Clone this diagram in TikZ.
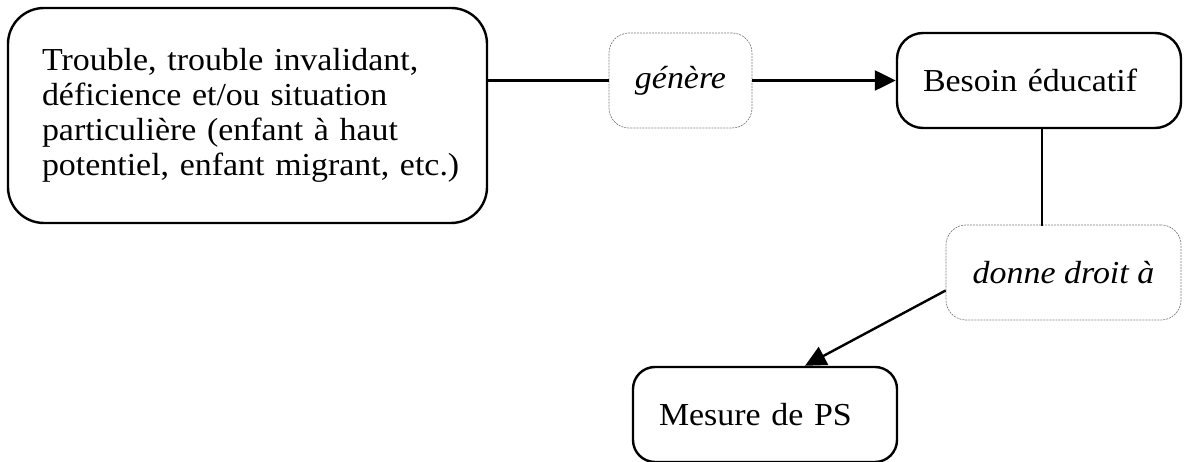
\documentclass[tikz,border=0pt]{standalone}
\usepackage{fontspec}
\setmainfont[FakeStretch=1.06]{Liberation Serif}
\usetikzlibrary{arrows.meta}

\begin{document}
\begin{tikzpicture}[x=1pt,y=-1pt,font=\fontsize{32}{35}\selectfont]

\tikzset{
    box/.style={draw,line width=2.4pt,rounded corners=#1,align=left,inner sep=0pt,minimum height=95pt},
    verb/.style={draw=gray,dash pattern=on 2pt off 1pt,line width=0.7pt,rounded corners=20pt,
        inner sep=0pt,minimum height=95pt,font=\fontsize{32}{35}\selectfont\itshape},
    link/.style={line width=2.4pt},
    tip/.style={-{Triangle[length=21pt,width=20pt]}}}

\useasboundingbox (0,0) rectangle (1184,462);

\node[box=36pt, minimum width=479pt, minimum height=215pt, text width=411pt] (cause) at (247.5,115.5)
    {Trouble, trouble invalidant,\\ déficience et/ou situation\\ particulière (enfant à haut\\
     \makebox[411pt][l]{potentiel, enfant migrant, etc.)}};

\node[verb, minimum width=143pt] (genere) at (680.5,80.5) {génère};

\node[box=26pt, minimum width=284pt, text width=232pt] (besoin) at (1039,80.5) {Besoin éducatif};

\node[verb, minimum width=235pt] (droit) at (1063.5,272.5) {donne droit à};

\node[box=22pt, minimum width=264pt, text width=212pt] (mesure) at (765,414.5) {Mesure de PS};

\draw[link] (cause.east |- genere.west) -- (genere.west);
\draw[link,tip] (genere.east) -- (besoin.west);

\draw[link] (besoin.south -| droit.north) ++(-21.5,0) -- ++(0,97);
\draw[link,tip] ([yshift=-18pt]droit.west) -- ([xshift=40pt]mesure.north);

\end{tikzpicture}
\end{document}
